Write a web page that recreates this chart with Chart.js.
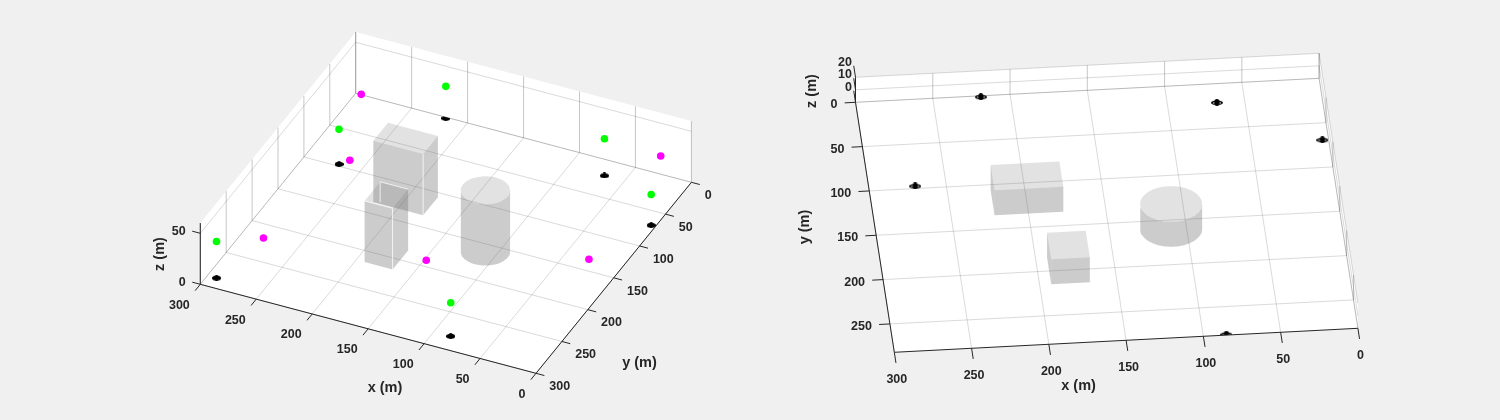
<!DOCTYPE html>
<html>
<head>
<meta charset="utf-8">
<script src="https://cdn.jsdelivr.net/npm/chart.js@4"></script>
<style>
html,body{margin:0;padding:0;background:#f0f0f0;width:1500px;height:420px;overflow:hidden}
canvas{position:absolute;top:0}
#left{left:0}
#right{left:750px}
</style>
</head>
<body>
<canvas id="left" width="750" height="420"></canvas>
<canvas id="right" width="750" height="420"></canvas>
<script>
// ---- data (metres) ----
const tickValues = [0, 50, 100, 150, 200, 250, 300];
const xTickLabels = ['0', '50', '100', '150', '200', '250', '300'];
const leftYTicks = [0, 50, 100, 150, 200, 250, 300];
const leftYTickLabels = ['0', '50', '100', '150', '200', '250', '300'];
const rightYTicks = [0, 50, 100, 150, 200, 250];
const rightYTickLabels = ['0', '50', '100', '150', '200', '250'];
const leftZTicks = [0, 50];
const leftZTickLabels = ['0', '50'];
const rightZTicks = [0, 10, 20];
const rightZTickLabels = ['0', '10', '20'];

const droneX = [219, 68, 4, 270, 292, 85];
const droneY = [1, 21, 69, 97, 286, 281];
const droneZ = [31, 36, 30, 34, 35.6, 32.6];
const groundX = [277, 20, 246, 263, 130, 11];
const groundY = [39, 16, 128, 258, 231, 174];
const groundZ = [30, 30, 30, 30, 30, 30];

const bigBoxX = [177.5, 222];
const bigBoxY = [106, 134.5];
const smallBoxX = [167.5, 192.5];
const smallBoxY = [185, 215];
const cylCentre = [110, 160];
const cylRadius = [20];
const leftHeight = [60];
const rightHeight = [20];
const leftLimits = [300, 300, 60];
const rightLimits = [300, 282, 20];

// ---- colours ----
const AX = '#262626', GRID = 'rgba(38,38,38,0.17)', WALLGRID = 'rgba(38,38,38,0.26)';
const SIDE = 'rgba(110,110,110,0.35)', TOP = 'rgba(110,110,110,0.2)';
const EDGE = 'rgba(255,255,255,0.75)';
const FONT = '"Liberation Sans", Arial, sans-serif';

function blob(w, h, hollow, ry) {
  const c = document.createElement('canvas');
  c.width = w; c.height = h;
  const g = c.getContext('2d');
  g.fillStyle = '#000';
  g.beginPath();
  g.ellipse(w / 2, h * 0.55, w / 2, h * ry, 0, 0, Math.PI * 2);
  g.fill();
  g.beginPath();
  g.ellipse(w / 2, h * 0.5, w * 0.22, h * 0.5, 0, 0, Math.PI * 2);
  g.fill();
  if (hollow) {
    g.fillStyle = '#fff';
    g.fillRect(2, h * 0.5, 1.5, 1);
    g.fillRect(w - 3.5, h * 0.5, 1.5, 1);
  }
  return c;
}

function panel(id, view) {
  const P = (x, y, z) => ({
    x: view.o[0] + view.ax[0] * x + view.ay[0] * y,
    y: view.o[1] + view.ax[1] * x + view.ay[1] * y + view.az * z
  });
  const [X, Y, Z] = view.lim;
  const sets = [];
  const poly = (pts, color) => sets.push({ data: pts.map(p => P(...p)), showLine: true, fill: 'shape',
    backgroundColor: color, borderWidth: 0, borderColor: 'transparent', pointRadius: 0, tension: 0 });
  const line = (pts, color, w) => sets.push({ data: pts.map(p => P(...p)), showLine: true, fill: false,
    borderColor: color, borderWidth: w || 1, pointRadius: 0, tension: 0, borderDash: [3000, 1] });

  // walls and floor
  view.walls.forEach(w => poly(w, '#ffffff'));
  poly([[0, 0, 0], [X, 0, 0], [X, Y, 0], [0, Y, 0]], '#ffffff');

  // grid
  view.xT.forEach(t => {
    line([[t, view.yWall, Z], [t, view.yWall, 0]], WALLGRID);
    line([[t, view.yWall, 0], [t, Y, 0]], GRID);
  });
  view.yT.forEach(t => {
    line([[view.xWall, t, Z], [view.xWall, t, 0]], WALLGRID);
    line([[view.xWall, t, 0], [X - view.xWall, t, 0]], GRID);
  });
  view.zT.forEach(t => {
    line([[X - view.xWall, view.yWall, t], [view.xWall, view.yWall, t], [view.xWall, Y, t]], GRID);
  });

  // objects
  const box = (bx, by, h) => {
    const sx = view.sideX(bx);
    poly([[sx, by[0], 0], [sx, by[1], 0], [sx, by[1], h], [sx, by[0], h]], SIDE);
    poly([[bx[0], by[1], 0], [bx[1], by[1], 0], [bx[1], by[1], h], [bx[0], by[1], h]], SIDE);
    poly([[bx[0], by[0], h], [bx[1], by[0], h], [bx[1], by[1], h], [bx[0], by[1], h]], TOP);
  };
  const h = view.h;
  box(bigBoxX, bigBoxY, h);
  box(smallBoxX, smallBoxY, h);
  const cx = cylCentre[0], cy = cylCentre[1], r = cylRadius[0];
  const th0 = Math.atan2(view.ay[0], view.ax[0]);
  let low = [], top = [];
  for (let i = 0; i <= 48; i++) {
    const t = th0 + i / 48 * Math.PI * view.cylSign;
    low.push([cx + r * Math.cos(t), cy + r * Math.sin(t), 0]);
    top.push([cx + r * Math.cos(t), cy + r * Math.sin(t), h]);
  }
  poly(low.concat(top.slice().reverse()), SIDE);
  const cap = [];
  for (let i = 0; i < 64; i++) {
    const t = i / 64 * Math.PI * 2;
    cap.push([cx + r * Math.cos(t), cy + r * Math.sin(t), h]);
  }
  poly(cap, TOP);

  if (view.edges) {
    const bx = bigBoxX, by = bigBoxY, sx = smallBoxX, sy = smallBoxY;
    line([[bx[0], by[1], 0], [bx[0], by[1], h]], EDGE);
    line([[sx[0], sy[1], 0], [sx[0], sy[1], h]], EDGE);
    line([[sx[1], sy[1], h], [sx[0], sy[1], h]], EDGE);
    line([[sx[0], sy[0], h], [sx[1], sy[0], h], [sx[1], sy[0], h - 20]], EDGE);
  }

  // markers
  const bi = view.blackIdx;
  sets.push({ data: bi.map(i => P(droneX[i], droneY[i], 0)), pointStyle: view.black, pointRadius: 5,
    backgroundColor: '#000', borderColor: '#000', showLine: false, clipAxes: true });
  if (view.colored) {
    sets.push({ data: droneX.map((v, i) => P(v, droneY[i], droneZ[i])), pointStyle: 'circle', pointRadius: 3.8,
      backgroundColor: '#00ff00', borderColor: '#00ff00', borderWidth: 0, showLine: false });
    sets.push({ data: groundX.map((v, i) => P(v, groundY[i], groundZ[i])), pointStyle: 'circle', pointRadius: 3.8,
      backgroundColor: '#ff00ff', borderColor: '#ff00ff', borderWidth: 0, showLine: false });
  }

  // axis lines and ticks
  line([[0, Y, 0], [X, Y, 0]], AX);
  line([[view.yAxisX, 0, 0], [view.yAxisX, Y, 0]], AX);
  line([[view.zAxis[0], view.zAxis[1], 0], [view.zAxis[0], view.zAxis[1], Z]], AX);
  view.xT.forEach(t => line([[t, Y, 0], [t, Y + view.xTick, 0]], AX));
  view.yT.forEach(t => line([[view.yAxisX, t, 0], [view.yAxisX + view.yTick, t, 0]], AX));
  view.zT.forEach(t => line([[view.zAxis[0] + view.zTick[0], view.zAxis[1] + view.zTick[1], t], [view.zAxis[0], view.zAxis[1], t]], AX));

  // later datasets paint over earlier ones
  sets.forEach((s, i) => { s.order = -i; });

  const textPlugin = {
    id: 'text3d',
    beforeDatasetDraw(chart, a) {
      if (!chart.data.datasets[a.index].clipAxes) return;
      const sx = chart.scales.x, sy = chart.scales.y, c = chart.ctx;
      c.save();
      c.beginPath();
      view.clipPoly.forEach((p, i) => {
        const q = P(...p), px = sx.getPixelForValue(q.x), py = sy.getPixelForValue(q.y);
        i ? c.lineTo(px, py) : c.moveTo(px, py);
      });
      c.closePath();
      c.clip();
    },
    afterDatasetDraw(chart, a) {
      if (chart.data.datasets[a.index].clipAxes) chart.ctx.restore();
    },
    afterDraw(chart) {
      const c = chart.ctx, sx = chart.scales.x, sy = chart.scales.y;
      c.save();
      c.fillStyle = AX;
      c.textBaseline = 'middle';
      c.font = view.font;
      const put = (p, off, s, al) => {
        const q = P(...p);
        c.textAlign = al;
        c.fillText(s, sx.getPixelForValue(q.x) + off[0], sy.getPixelForValue(q.y) + off[1]);
      };
      view.xT.forEach((t, i) => put([t, Y, 0], view.xOff, view.xL[i], view.xAlign));
      view.yT.forEach((t, i) => put([view.yAxisX, t, 0], view.yOff, view.yL[i], view.yAlign));
      view.zT.forEach((t, i) => put([view.zAxis[0], view.zAxis[1], t], view.zOff, view.zL[i], 'right'));
      c.textAlign = 'center';
      c.font = view.titleFont;
      view.titles.forEach(tt => {
        c.save();
        c.translate(sx.getPixelForValue(tt[1]), sy.getPixelForValue(tt[2]));
        if (tt[3]) c.rotate(-Math.PI / 2);
        c.fillText(tt[0], 0, 0);
        c.restore();
      });
      c.restore();
    }
  };

  return new Chart(document.getElementById(id), {
    type: 'scatter',
    data: { datasets: sets },
    plugins: [textPlugin],
    options: {
      responsive: false, animation: false, devicePixelRatio: 1,
      layout: { padding: 0, autoPadding: false },
      plugins: { legend: { display: false }, tooltip: { enabled: false }, title: { display: false } },
      elements: { line: { tension: 0 } },
      clip: false,
      scales: {
        x: { type: 'linear', min: 0, max: 750, display: false },
        y: { type: 'linear', min: 0, max: 420, reverse: true, display: false }
      }
    }
  });
}

const L = leftLimits, R = rightLimits;
panel('left', {
  o: [691.4, 182.3], ax: [-1.119, -0.2967], ay: [-0.518, 0.6367], az: -1.02,
  lim: L, h: leftHeight[0], xWall: L[0], yWall: 0,
  walls: [[[0, 0, 0], [L[0], 0, 0], [L[0], 0, L[2]], [0, 0, L[2]]],
          [[L[0], 0, 0], [L[0], L[1], 0], [L[0], L[1], L[2]], [L[0], 0, L[2]]]],
  clipPoly: [[0, 0, 0], [0, L[1] + 20, 0], [L[0] + 20, L[1] + 20, 0], [L[0] + 20, 0, 0]],
  xT: tickValues, yT: leftYTicks, zT: leftZTicks,
  xL: xTickLabels, yL: leftYTickLabels, zL: leftZTickLabels,
  sideX: b => b[0], cylSign: -1, edges: true,
  blackIdx: [0, 1, 2, 3, 4, 5], black: blob(9, 6, false, 0.42), colored: true,
  yAxisX: 0, zAxis: [L[0], L[1]], xTick: 10, yTick: -7.5, zTick: [7.2, 0],
  xOff: [-10.5, 21], xAlign: 'right', yOff: [13.3, 13.4], yAlign: 'left', zOff: [-14.6, -1.8],
  font: 'bold 12.5px ' + FONT, titleFont: 'bold 14.5px ' + FONT,
  titles: [['x (m)', 385, 388, false], ['y (m)', 639.5, 363, false], ['z (m)', 160, 254, true]]
});
panel('right', {
  o: [569.1, 78.3], ax: [-1.5453, 0.08], ay: [0.1376, 0.8865], az: -1.25,
  lim: R, h: rightHeight[0], xWall: 0, yWall: 0,
  walls: [[[0, 0, 0], [R[0], 0, 0], [R[0], 0, R[2]], [0, 0, R[2]]],
          [[0, 0, 0], [0, R[1], 0], [0, R[1], R[2]], [0, 0, R[2]]]],
  clipPoly: [[0, 0, 20], [R[0], 0, 20], [R[0], R[1], 0], [0, R[1], 0]],
  xT: tickValues, yT: rightYTicks, zT: rightZTicks,
  xL: xTickLabels, yL: rightYTickLabels, zL: rightZTickLabels,
  sideX: b => b[1], cylSign: -1, edges: false,
  blackIdx: [0, 1, 2, 3, 5], black: blob(12, 7, true, 0.34), colored: false,
  yAxisX: R[0], zAxis: [R[0], 0], xTick: 12, yTick: 7, zTick: [0, -13],
  xOff: [2.5, 27], xAlign: 'center', yOff: [-18, 2.7], yAlign: 'right', zOff: [-3.5, -15],
  font: 'bold 12.5px ' + FONT, titleFont: 'bold 14.5px ' + FONT,
  titles: [['x (m)', 328.6, 386, false], ['y (m)', 55, 227, true], ['z (m)', 62, 91, true]]
});
</script>
</body>
</html>
